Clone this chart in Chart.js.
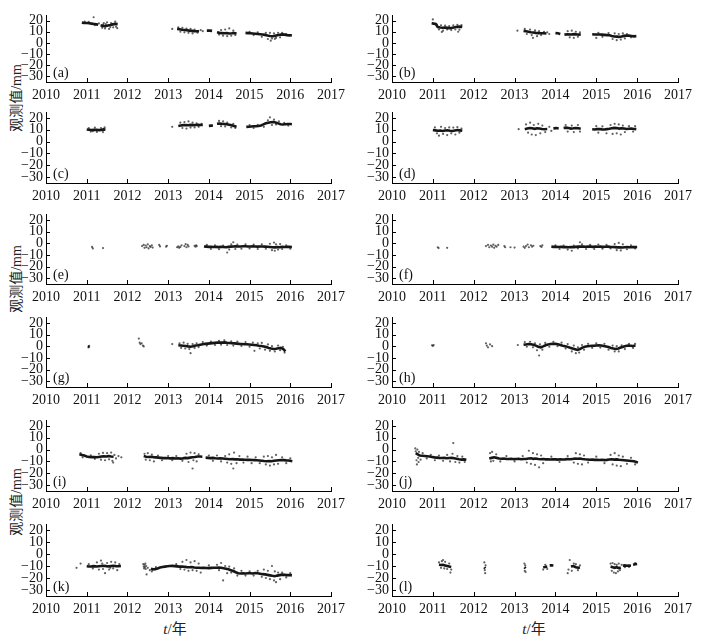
<!DOCTYPE html>
<html>
<head>
<meta charset="utf-8">
<script src="https://cdn.jsdelivr.net/npm/chart.js@4.4.1/dist/chart.umd.min.js"></script>
<style>
  body { margin: 0; background: #fff; }
  #wrap { position: relative; width: 705px; height: 642px; overflow: hidden; }
  canvas { position: absolute; }
  .ytitle { position: absolute; left: 15px; transform: translate(-50%, -50%) rotate(-90deg); white-space: nowrap;
            font: 14px "Liberation Serif", "Times New Roman", "Noto Sans CJK SC", serif; color: #222; }
  .xtitle { position: absolute; transform: translate(-50%, -50%); white-space: nowrap;
            font: 15px "Liberation Serif", "Times New Roman", "Noto Sans CJK SC", serif; color: #222; }
</style>
</head>
<body>
<div id="wrap">
  <div class="ytitle" style="top:98px">观测值/mm</div>
  <div class="ytitle" style="top:279px">观测值/mm</div>
  <div class="ytitle" style="top:502px">观测值/mm</div>
  <div class="xtitle" style="left:175px; top:627px"><i>t</i>/年</div>
  <div class="xtitle" style="left:534px; top:627px"><i>t</i>/年</div>
</div>
<script>
// axis ticks
var years = [2010, 2011, 2012, 2013, 2014, 2015, 2016, 2017];
var values = [20, 10, 0, -10, -20, -30];
var labels = ['(a)', '(b)', '(c)', '(d)', '(e)', '(f)', '(g)', '(h)', '(i)', '(j)', '(k)', '(l)'];

// core = dense part of each series [t, mm], null = gap ; dots = scattered observations
var aCore = [[2010.88,18.2],[2010.94,17.9],[2011.0,17.8],[2011.06,17.6],[2011.12,17.3],[2011.18,17.0],[2011.24,16.6],[2011.28,16.2],[2011.31,null],
  [2011.34,15.8],[2011.4,15.2],[2011.46,15.0],[2011.52,15.6],[2011.58,16.0],[2011.64,16.6],[2011.7,17.0],[2011.76,16.8],[2012.5,null],
  [2013.22,12.6],[2013.28,12.2],[2013.34,11.8],[2013.4,11.6],[2013.46,11.3],[2013.52,11.0],[2013.58,10.8],[2013.64,10.6],[2013.7,10.5],[2013.76,10.4],[2013.85,null],
  [2013.95,11.0],[2014.02,11.0],[2014.08,10.8],[2014.14,null],
  [2014.2,9.5],[2014.26,9.0],[2014.32,8.8],[2014.38,8.6],[2014.44,8.8],[2014.5,8.5],[2014.56,8.6],[2014.62,8.8],[2014.68,8.4],[2014.8,null],
  [2014.9,9.0],[2014.96,8.8],[2015.02,8.6],[2015.08,8.4],[2015.14,8.2],[2015.2,8.0],[2015.26,7.8],[2015.32,7.6],[2015.38,7.2],[2015.44,6.6],[2015.5,6.2],
  [2015.56,6.0],[2015.62,6.3],[2015.68,6.8],[2015.74,7.3],[2015.8,7.6],[2015.86,7.4],[2015.92,7.0],[2015.98,6.8],[2016.04,6.9]];
var aDots = [[2011.17,23],[2010.95,19.2],[2011.05,18.8],[2011.2,16.0],[2011.3,17.5],[2011.38,13.5],[2011.42,17.8],[2011.45,13.0],[2011.5,18.5],[2011.55,12.5],
  [2011.6,17.8],[2011.65,14.0],[2011.7,19.0],[2011.72,14.5],[2011.47,16.8],[2011.58,14.2],[2011.75,13.2],[2011.4,16.5],
  [2013.1,12.5],[2013.25,14.0],[2013.3,10.0],[2013.35,13.5],[2013.4,9.5],[2013.45,12.8],[2013.5,9.0],[2013.55,12.5],[2013.6,8.5],[2013.65,12.0],[2013.72,9.2],
  [2013.8,11.5],[2013.85,10.5],[2014.3,11.5],[2014.35,6.5],[2014.4,12.0],[2014.45,6.0],[2014.5,13.0],[2014.55,6.5],[2014.6,11.0],[2014.65,7.0],[2014.25,7.5],
  [2015.0,10.0],[2015.1,7.0],[2015.2,9.5],[2015.4,9.0],[2015.45,3.5],[2015.5,9.0],[2015.52,2.0],[2015.55,4.0],[2015.6,8.5],[2015.62,3.5],[2015.65,4.5],
  [2015.7,9.0],[2015.75,5.0],[2015.8,9.0],[2015.9,8.0],[2015.3,5.5]];

var bCore = [[2010.97,17.6],[2011.02,17.3],[2011.07,17.0],[2011.12,14.2],[2011.18,13.8],[2011.24,13.6],[2011.3,13.7],[2011.36,13.5],[2011.42,13.2],[2011.48,13.6],
  [2011.54,14.0],[2011.6,14.4],[2011.66,14.6],[2011.72,14.2],[2012.5,null],
  [2013.22,10.8],[2013.28,10.4],[2013.34,10.0],[2013.4,9.6],[2013.46,9.4],[2013.52,9.0],[2013.58,8.8],[2013.64,8.6],[2013.7,8.7],[2013.78,8.5],[2013.9,null],
  [2014.0,8.8],[2014.06,8.6],[2014.12,8.0],[2014.17,null],
  [2014.22,7.4],[2014.3,7.8],[2014.38,7.6],[2014.46,7.9],[2014.54,7.6],[2014.62,7.4],[2014.8,null],
  [2014.9,7.8],[2014.96,7.6],[2015.02,7.5],[2015.08,7.6],[2015.14,7.4],[2015.2,7.2],[2015.26,7.0],[2015.32,6.8],[2015.38,6.2],[2015.44,5.8],[2015.5,5.6],
  [2015.56,5.4],[2015.62,5.8],[2015.68,6.3],[2015.74,6.6],[2015.8,6.5],[2015.86,6.2],[2015.92,5.9],[2015.98,6.1]];
var bDots = [[2011.0,21.0],[2011.1,16.5],[2011.15,12.0],[2011.2,15.8],[2011.25,11.0],[2011.3,15.5],[2011.35,12.0],[2011.4,15.0],[2011.45,11.5],[2011.5,15.8],
  [2011.55,12.0],[2011.6,16.2],[2011.65,11.8],[2011.7,16.0],[2011.22,9.8],[2011.62,10.0],[2013.07,11],[2013.25,12.5],[2013.3,8.0],[2013.38,12.0],[2013.42,7.0],
  [2013.5,11.2],[2013.55,6.0],[2013.6,10.5],[2013.65,7.0],[2013.72,10.0],[2013.8,9.5],[2013.85,8.0],[2013.45,4.5],[2014.3,10.5],[2014.35,5.0],[2014.4,11.0],
  [2014.45,4.5],[2014.5,10.0],[2014.55,5.5],[2014.6,9.5],[2015.05,9.0],[2015.15,5.5],[2015.3,8.8],[2015.4,3.5],[2015.45,8.5],[2015.5,2.5],[2015.55,8.0],
  [2015.6,3.0],[2015.65,8.5],[2015.7,4.0],[2015.75,8.0],[2015.85,5.0],[2015.0,4.5]];

var cCore = [[2011.0,10.2],[2011.06,10.0],[2011.12,9.8],[2011.18,9.9],[2011.24,10.0],[2011.3,9.7],[2011.36,9.9],[2011.42,10.3],[2011.46,10.0],[2012.5,null],
  [2013.25,13.2],[2013.31,13.6],[2013.37,13.9],[2013.43,14.0],[2013.49,13.8],[2013.55,14.1],[2013.61,13.9],[2013.67,14.0],[2013.73,14.2],[2013.79,14.0],[2013.85,14.1],[2013.92,null],
  [2014.0,13.3],[2014.06,13.5],[2014.1,13.6],[2014.15,null],
  [2014.2,15.0],[2014.26,15.3],[2014.32,15.0],[2014.38,14.8],[2014.44,14.6],[2014.5,14.2],[2014.56,13.8],[2014.62,13.2],[2014.68,12.6],[2014.8,null],
  [2014.92,12.4],[2014.98,12.6],[2015.04,12.8],[2015.1,12.9],[2015.16,13.0],[2015.22,13.2],[2015.28,13.6],[2015.34,14.5],[2015.4,15.5],[2015.46,16.0],[2015.52,16.4],
  [2015.58,16.6],[2015.64,16.2],[2015.7,15.4],[2015.76,14.6],[2015.82,14.4],[2015.88,14.6],[2015.94,14.8],[2016.0,14.9],[2016.04,14.7]];
var cDots = [[2011.05,11.5],[2011.1,8.5],[2011.2,11.8],[2011.25,8.2],[2011.35,11.5],[2011.4,8.0],[2011.44,12.0],[2011.15,8.8],[2013.1,12.5],[2013.3,16.0],
  [2013.35,11.5],[2013.4,16.5],[2013.45,11.0],[2013.5,17.0],[2013.55,11.8],[2013.6,16.0],[2013.65,12.0],[2013.7,15.5],[2013.75,12.5],[2013.82,15.0],[2014.25,17.5],
  [2014.3,13.0],[2014.35,17.0],[2014.4,12.8],[2014.45,16.0],[2014.55,12.0],[2014.6,15.0],[2014.65,11.5],[2015.0,14.0],[2015.1,11.5],[2015.2,14.2],[2015.35,12.5],
  [2015.45,18.0],[2015.5,20.5],[2015.55,14.0],[2015.6,18.5],[2015.65,14.5],[2015.72,17.0],[2015.85,15.8],[2015.95,13.5]];

var dCore = [[2011.0,9.8],[2011.06,9.5],[2011.12,9.2],[2011.18,9.4],[2011.24,9.0],[2011.3,9.3],[2011.36,9.6],[2011.42,9.2],[2011.48,9.0],[2011.54,9.4],[2011.6,9.8],
  [2011.66,9.5],[2011.72,9.2],[2012.5,null],
  [2013.25,10.5],[2013.31,11.0],[2013.37,11.5],[2013.43,11.2],[2013.49,10.8],[2013.55,11.3],[2013.61,11.0],[2013.67,10.6],[2013.73,10.4],[2013.8,10.6],[2013.88,null],
  [2013.95,11.2],[2014.02,11.4],[2014.08,11.0],[2014.14,null],
  [2014.2,11.5],[2014.26,11.8],[2014.32,11.4],[2014.38,11.0],[2014.44,11.2],[2014.5,11.5],[2014.56,11.2],[2014.62,10.8],[2014.8,null],
  [2014.9,10.4],[2014.96,10.2],[2015.02,10.5],[2015.08,10.6],[2015.14,10.3],[2015.2,10.2],[2015.26,10.5],[2015.32,10.8],[2015.38,11.2],[2015.44,11.6],[2015.5,11.4],
  [2015.56,11.0],[2015.62,11.3],[2015.68,11.0],[2015.74,10.6],[2015.8,10.8],[2015.86,11.0],[2015.92,10.7],[2015.98,10.5]];
var dDots = [[2011.05,12.0],[2011.1,7.0],[2011.2,12.5],[2011.25,6.5],[2011.3,11.5],[2011.35,5.5],[2011.4,12.0],[2011.45,7.0],[2011.5,11.8],[2011.55,6.0],
  [2011.6,12.2],[2011.65,7.5],[2011.7,11.0],[2011.15,5.0],[2013.1,10.5],[2013.28,14.5],[2013.33,7.5],[2013.38,16.0],[2013.42,6.0],[2013.47,14.0],[2013.52,5.5],
  [2013.58,15.0],[2013.63,7.0],[2013.68,13.5],[2013.75,8.0],[2013.85,12.5],[2013.9,9.0],[2014.25,14.0],[2014.3,8.5],[2014.4,13.5],[2014.45,8.0],[2014.55,14.0],
  [2014.6,8.5],[2015.0,13.0],[2015.05,7.5],[2015.15,12.8],[2015.25,7.0],[2015.35,14.0],[2015.4,6.5],[2015.45,15.0],[2015.5,7.0],[2015.55,14.5],[2015.6,6.0],
  [2015.65,13.5],[2015.7,8.0],[2015.8,13.0],[2015.9,8.5],[2015.95,13.0]];

var eCore = [[2013.88,-2.8],[2013.94,-3.0],[2014.0,-3.2],[2014.06,-3.1],[2014.12,-3.3],[2014.18,-3.2],[2014.24,-3.4],[2014.3,-3.2],[2014.36,-3.3],[2014.42,-3.5],
  [2014.48,-3.2],[2014.54,-3.0],[2014.6,-2.8],[2014.66,-2.7],[2014.72,-2.9],[2014.78,-2.8],[2014.84,-2.6],[2014.9,-2.7],[2014.96,-2.9],[2015.02,-2.8],[2015.08,-2.7],
  [2015.14,-2.9],[2015.2,-3.0],[2015.26,-2.8],[2015.32,-2.9],[2015.38,-3.0],[2015.44,-3.1],[2015.5,-3.3],[2015.56,-3.5],[2015.62,-3.6],[2015.68,-3.4],[2015.74,-3.5],
  [2015.8,-3.2],[2015.86,-3.3],[2015.92,-3.1],[2015.98,-3.2],[2016.04,-3.3]];
var eDots = [[2011.13,-3.2],[2011.15,-4.5],[2011.4,-4.2],[2012.36,-2.5],[2012.4,-1.5],[2012.42,-4.0],[2012.45,-2.0],[2012.47,-3.5],[2012.5,-1.0],[2012.52,-4.5],
  [2012.55,-2.5],[2012.57,-3.2],[2012.6,-1.8],[2012.62,-3.8],[2012.78,-1.5],[2012.8,-2.8],[2012.95,-3.0],[2012.97,-2.2],[2013.22,-3.5],[2013.25,-2.8],[2013.27,-4.0],
  [2013.3,-3.2],[2013.33,-1.8],[2013.4,-2.5],[2013.43,-0.8],[2013.45,-3.5],[2013.48,-1.5],[2013.5,-2.8],[2013.65,-2.2],[2013.67,-3.0],[2013.69,-1.8],[2013.7,-2.6],
  [2013.95,-1.5],[2014.05,-5.0],[2014.15,-1.8],[2014.25,-5.2],[2014.35,-2.0],[2014.45,-8.0],[2014.5,-5.5],[2014.55,-1.0],[2014.6,0.8],[2014.65,-5.0],[2014.7,-1.2],
  [2014.8,-4.8],[2014.9,-1.0],[2015.0,-4.5],[2015.1,-1.2],[2015.2,-5.0],[2015.3,-1.0],[2015.4,-4.8],[2015.5,-0.5],[2015.55,-6.0],[2015.6,0.5],[2015.62,-6.5],
  [2015.65,-1.0],[2015.7,-5.5],[2015.75,-0.8],[2015.8,-5.0],[2015.9,-1.8],[2016.0,-4.8]];

var fCore = [[2013.9,-3.0],[2013.96,-3.2],[2014.02,-3.1],[2014.08,-3.3],[2014.14,-3.2],[2014.2,-3.4],[2014.26,-3.3],[2014.32,-3.5],[2014.38,-3.3],[2014.44,-3.4],
  [2014.5,-3.2],[2014.56,-3.0],[2014.62,-2.9],[2014.68,-3.0],[2014.74,-3.1],[2014.8,-2.9],[2014.86,-3.0],[2014.92,-3.2],[2014.98,-3.0],[2015.04,-3.1],[2015.1,-3.0],
  [2015.16,-3.2],[2015.22,-3.1],[2015.28,-3.0],[2015.34,-3.2],[2015.4,-3.3],[2015.46,-3.4],[2015.52,-3.6],[2015.58,-3.5],[2015.64,-3.7],[2015.7,-3.5],[2015.76,-3.4],
  [2015.82,-3.5],[2015.88,-3.3],[2015.94,-3.4],[2016.0,-3.3]];
var fDots = [[2011.12,-3.5],[2011.14,-4.2],[2011.35,-4.0],[2012.3,-2.5],[2012.35,-1.5],[2012.38,-3.5],[2012.42,-2.0],[2012.45,-3.0],[2012.48,-1.2],[2012.5,-4.0],
  [2012.53,-2.2],[2012.56,-3.0],[2012.6,-1.5],[2012.75,-2.5],[2012.77,-3.5],[2012.9,-3.5],[2013.0,-3.8],[2013.22,-3.0],[2013.25,-4.0],[2013.28,-2.5],[2013.32,-1.2],
  [2013.35,-3.5],[2013.4,-1.8],[2013.43,-3.0],[2013.46,-2.2],[2013.63,-2.5],[2013.66,-3.2],[2013.68,-1.8],[2014.0,-1.8],[2014.1,-5.0],[2014.2,-2.0],[2014.3,-5.5],
  [2014.4,-6.5],[2014.45,-2.0],[2014.55,-4.5],[2014.6,0.8],[2014.65,-1.0],[2014.75,-5.0],[2014.85,-1.5],[2014.95,-5.0],[2015.05,-1.2],[2015.15,-4.8],[2015.25,-1.5],
  [2015.35,-4.5],[2015.45,-0.8],[2015.5,-6.0],[2015.55,0.2],[2015.6,-6.2],[2015.65,-1.0],[2015.75,-5.2],[2015.85,-1.8],[2015.95,-4.5]];

var gCore = [[2011.03,-0.5],[2011.07,-0.2],[2012.5,null],
  [2013.25,0.8],[2013.31,0.6],[2013.37,0.4],[2013.43,0.2],[2013.49,-0.2],[2013.55,-0.5],[2013.61,0.0],[2013.67,0.6],[2013.73,0.8],[2013.79,1.2],[2013.85,1.6],
  [2013.91,2.0],[2013.97,2.2],[2014.03,2.4],[2014.09,2.6],[2014.15,2.8],[2014.21,3.0],[2014.27,3.2],[2014.33,3.0],[2014.39,3.2],[2014.45,2.9],[2014.51,2.7],
  [2014.57,2.5],[2014.63,2.4],[2014.69,2.2],[2014.75,2.0],[2014.81,1.9],[2014.87,1.7],[2014.93,1.6],[2014.99,1.4],[2015.05,1.2],[2015.11,1.0],[2015.17,0.8],
  [2015.23,0.4],[2015.29,0.2],[2015.35,-0.2],[2015.41,-0.8],[2015.47,-1.5],[2015.53,-2.0],[2015.59,-2.4],[2015.65,-2.2],[2015.71,-1.8],[2015.77,-1.5],[2015.83,-2.5],[2015.88,-4.5]];
var gDots = [[2011.04,-1.0],[2011.06,0.3],[2012.28,6.5],[2012.3,3.0],[2012.32,1.8],[2012.35,2.5],[2012.38,0.5],[2012.4,-0.2],[2013.1,1.8],[2013.28,2.5],[2013.32,-1.5],
  [2013.38,3.0],[2013.42,-2.0],[2013.48,2.0],[2013.52,-2.5],[2013.55,-6.0],[2013.6,1.8],[2013.65,-1.5],[2013.7,2.5],[2013.75,-0.8],[2013.85,3.5],[2013.95,0.5],
  [2014.05,4.0],[2014.15,1.0],[2014.25,4.5],[2014.3,1.2],[2014.38,5.0],[2014.45,1.0],[2014.55,4.2],[2014.6,0.5],[2014.7,4.0],[2014.8,0.2],[2014.9,3.5],[2015.0,-0.5],
  [2015.08,3.0],[2015.12,-4.0],[2015.2,2.5],[2015.25,-2.0],[2015.3,2.8],[2015.38,-3.0],[2015.45,1.5],[2015.5,-4.0],[2015.55,0.0],[2015.62,-4.5],[2015.7,0.5],
  [2015.75,-3.5],[2015.82,-0.5],[2015.86,-5.5]];

var hCore = [[2013.22,1.2],[2013.28,1.5],[2013.34,1.8],[2013.4,1.6],[2013.46,1.2],[2013.52,0.5],[2013.58,-0.5],[2013.64,-1.0],[2013.7,-0.2],[2013.76,0.8],[2013.82,1.4],
  [2013.88,1.8],[2013.94,2.0],[2014.0,2.0],[2014.06,1.6],[2014.12,1.0],[2014.18,0.4],[2014.24,0.0],[2014.3,-0.6],[2014.36,-1.4],[2014.42,-2.0],[2014.48,-2.6],
  [2014.54,-3.2],[2014.6,-2.5],[2014.66,-1.2],[2014.72,-0.4],[2014.78,0.0],[2014.84,0.2],[2014.9,0.4],[2014.96,0.5],[2015.0,0.6],[2015.06,0.8],[2015.12,0.6],
  [2015.18,0.2],[2015.24,-0.2],[2015.3,-0.8],[2015.36,-1.5],[2015.42,-2.0],[2015.48,-2.4],[2015.54,-2.0],[2015.6,-1.2],[2015.66,-0.5],[2015.72,0.2],[2015.78,0.5],
  [2015.84,0.4],[2015.9,0.2],[2015.96,0.5]];
var hDots = [[2010.98,0.8],[2011.0,0.2],[2011.02,1.0],[2012.3,2.5],[2012.32,0.5],[2012.35,-1.0],[2012.4,1.5],[2012.45,0.0],[2013.08,1.0],[2013.25,3.5],[2013.3,-0.5],
  [2013.38,3.8],[2013.45,-1.0],[2013.5,2.5],[2013.55,-3.5],[2013.6,-8.0],[2013.62,1.5],[2013.68,-3.0],[2013.75,2.8],[2013.85,-0.5],[2013.95,3.8],[2014.05,0.0],
  [2014.15,3.0],[2014.25,-2.0],[2014.3,1.8],[2014.4,-4.5],[2014.45,0.5],[2014.5,-6.0],[2014.55,-1.0],[2014.58,-5.5],[2014.65,1.0],[2014.7,-3.0],[2014.8,2.0],
  [2014.9,-1.5],[2015.0,2.5],[2015.1,-1.2],[2015.2,2.0],[2015.3,-3.0],[2015.4,0.5],[2015.45,-4.5],[2015.5,0.0],[2015.55,-4.5],[2015.62,0.8],[2015.7,-2.5],
  [2015.8,2.0],[2015.9,-1.5],[2015.95,2.0]];

var iCore = [[2010.82,-4.0],[2010.88,-4.5],[2010.94,-5.0],[2011.0,-5.8],[2011.06,-6.2],[2011.12,-6.4],[2011.18,-6.3],[2011.24,-6.5],[2011.3,-6.2],[2011.36,-5.9],
  [2011.42,-5.6],[2011.48,-5.8],[2011.54,-5.5],[2011.6,-5.9],[2011.66,-6.1],[2012.0,null],
  [2012.4,-5.5],[2012.46,-6.0],[2012.52,-6.3],[2012.58,-6.1],[2012.64,-6.4],[2012.7,-6.6],[2012.76,-6.8],[2012.82,-7.0],[2012.88,-7.2],[2012.94,-7.1],[2013.0,-7.3],
  [2013.06,-7.4],[2013.12,-7.2],[2013.18,-7.5],[2013.24,-7.3],[2013.3,-7.6],[2013.36,-7.4],[2013.42,-7.0],[2013.48,-7.2],[2013.54,-6.8],[2013.6,-6.5],[2013.66,-6.2],
  [2013.72,-5.8],[2013.78,-5.9],[2013.84,-6.0],[2013.88,null],
  [2013.92,-6.8],[2013.98,-7.0],[2014.04,-7.2],[2014.1,-7.0],[2014.16,-7.3],[2014.22,-7.5],[2014.28,-7.4],[2014.34,-7.6],[2014.4,-7.8],[2014.46,-8.0],[2014.52,-8.2],
  [2014.58,-8.1],[2014.64,-8.3],[2014.7,-8.2],[2014.76,-8.5],[2014.82,-8.4],[2014.88,-8.6],[2014.94,-8.7],[2015.0,-8.6],[2015.06,-8.8],[2015.12,-8.9],[2015.18,-9.0],
  [2015.24,-9.2],[2015.3,-9.4],[2015.36,-9.7],[2015.42,-9.9],[2015.48,-9.6],[2015.54,-9.8],[2015.6,-9.5],[2015.66,-9.2],[2015.72,-9.0],[2015.78,-8.8],[2015.84,-8.9],
  [2015.9,-9.1],[2015.96,-9.2],[2016.02,-9.6],[2016.05,-9.8]];
var iDots = [[2010.85,-3.0],[2010.9,-6.5],[2011.1,-4.8],[2011.2,-7.8],[2011.3,-3.5],[2011.35,-8.5],[2011.4,-2.8],[2011.45,-9.0],[2011.5,-3.0],[2011.55,-8.2],
  [2011.6,-2.5],[2011.63,-9.5],[2011.68,-4.5],[2011.72,-7.5],[2011.78,-5.5],[2011.85,-6.5],[2011.65,-11.0],[2012.42,-3.5],[2012.45,-8.5],[2012.5,-3.0],[2012.55,-9.0],
  [2012.6,-4.2],[2012.65,-10.0],[2012.75,-5.0],[2012.85,-9.0],[2013.0,-5.5],[2013.1,-9.0],[2013.2,-5.5],[2013.35,-9.5],[2013.45,-3.5],[2013.5,-10.5],[2013.55,-2.5],
  [2013.6,-16.0],[2013.62,-9.0],[2013.65,-3.0],[2013.7,-10.0],[2013.75,-4.0],[2014.0,-5.0],[2014.1,-9.5],[2014.2,-5.0],[2014.3,-10.0],[2014.4,-5.5],[2014.45,-11.0],
  [2014.5,-4.0],[2014.55,-12.0],[2014.6,-16.0],[2014.62,-2.5],[2014.68,-11.5],[2014.75,-5.5],[2014.85,-11.0],[2014.95,-6.0],[2015.05,-11.5],[2015.15,-6.5],
  [2015.25,-11.5],[2015.35,-6.0],[2015.4,-12.5],[2015.45,-5.5],[2015.5,-13.5],[2015.55,-6.5],[2015.6,-12.5],[2015.65,-4.5],[2015.7,-12.0],[2015.8,-6.5],
  [2015.9,-11.5],[2016.0,-7.5]];

var jCore = [[2010.58,-3.0],[2010.63,-4.0],[2010.68,-5.0],[2010.74,-5.2],[2010.8,-5.4],[2010.86,-5.6],[2010.92,-5.8],[2010.98,-6.2],[2011.04,-6.6],[2011.1,-6.8],
  [2011.16,-7.0],[2011.22,-7.1],[2011.28,-7.0],[2011.34,-7.3],[2011.4,-7.1],[2011.46,-7.0],[2011.52,-7.4],[2011.58,-7.8],[2011.64,-8.2],[2011.7,-8.5],[2011.76,-8.3],
  [2011.82,-8.6],[2012.1,null],
  [2012.38,-7.5],[2012.44,-7.0],[2012.5,-6.5],[2012.56,-7.0],[2012.62,-7.5],[2012.68,-7.8],[2012.74,-7.6],[2012.8,-7.9],[2012.86,-8.0],[2012.92,-7.8],[2012.98,-8.1],
  [2013.04,-8.0],[2013.1,-7.8],[2013.16,-8.2],[2013.22,-8.0],[2013.28,-7.9],[2013.34,-7.6],[2013.4,-7.4],[2013.46,-7.8],[2013.52,-7.5],[2013.58,-7.9],[2013.64,-8.2],
  [2013.7,-8.0],[2013.76,-8.3],[2013.82,-8.2],[2013.88,-8.4],[2013.94,-8.2],[2014.0,-8.3],[2014.06,-8.5],[2014.12,-8.2],[2014.18,-8.4],[2014.24,-8.3],[2014.3,-8.0],
  [2014.36,-8.2],[2014.42,-7.9],[2014.48,-7.6],[2014.54,-7.8],[2014.6,-7.5],[2014.66,-7.9],[2014.72,-8.2],[2014.78,-8.4],[2014.84,-8.6],[2014.9,-8.5],[2014.96,-8.7],
  [2015.02,-8.6],[2015.08,-8.8],[2015.14,-8.6],[2015.2,-8.9],[2015.26,-8.7],[2015.32,-8.4],[2015.38,-8.2],[2015.44,-8.5],[2015.5,-8.3],[2015.56,-8.6],[2015.62,-8.8],
  [2015.68,-9.0],[2015.74,-9.2],[2015.8,-9.4],[2015.86,-9.6],[2015.92,-9.9],[2015.98,-10.5],[2016.02,-11.0]];
var jDots = [[2010.57,1.0],[2010.58,-1.5],[2010.6,-9.0],[2010.61,-12.5],[2010.62,0.0],[2010.64,-7.0],[2010.65,-10.5],[2010.66,-2.0],[2010.7,-8.5],[2010.75,-3.0],
  [2010.85,-7.5],[2010.95,-4.5],[2011.05,-9.0],[2011.15,-5.0],[2011.25,-9.5],[2011.35,-4.5],[2011.42,-10.0],[2011.48,-3.5],[2011.5,5.5],[2011.55,-10.5],[2011.6,-5.5],
  [2011.65,-11.0],[2011.72,-6.0],[2011.78,-10.5],[2012.4,-3.0],[2012.42,-10.0],[2012.45,-2.0],[2012.48,-9.5],[2012.55,-4.0],[2012.65,-10.0],[2012.8,-5.5],
  [2013.0,-10.0],[2013.2,-5.5],[2013.3,-11.0],[2013.35,-1.0],[2013.4,-12.0],[2013.45,-3.0],[2013.5,-13.0],[2013.55,-4.0],[2013.6,-15.0],[2013.65,-5.0],[2013.7,-11.5],
  [2013.9,-6.0],[2014.1,-10.5],[2014.3,-5.5],[2014.45,-11.0],[2014.5,-3.0],[2014.55,-12.0],[2014.6,-4.0],[2014.65,-12.5],[2014.7,-5.0],[2014.8,-11.0],[2015.0,-6.0],
  [2015.2,-11.5],[2015.35,-4.5],[2015.4,-12.5],[2015.45,-3.0],[2015.5,-13.5],[2015.55,-5.0],[2015.6,-14.0],[2015.65,-6.0],[2015.75,-12.0],[2015.85,-7.0],[2015.95,-12.5]];

var kCore = [[2011.0,-10.2],[2011.06,-10.4],[2011.12,-10.3],[2011.18,-10.1],[2011.24,-10.4],[2011.3,-10.2],[2011.36,-10.0],[2011.42,-9.8],[2011.48,-10.1],[2011.54,-10.3],
  [2011.6,-10.0],[2011.66,-9.8],[2011.72,-10.1],[2011.78,-10.2],[2011.84,-10.0],[2012.2,null],
  [2012.58,-12.0],[2012.62,-12.8],[2012.68,-12.6],[2012.74,-12.0],[2012.8,-11.2],[2012.86,-10.8],[2012.92,-10.5],[2012.98,-10.2],[2013.04,-10.0],[2013.1,-9.9],
  [2013.16,-10.1],[2013.22,-10.3],[2013.28,-10.5],[2013.34,-10.4],[2013.4,-10.6],[2013.46,-10.9],[2013.52,-11.0],[2013.58,-10.8],[2013.64,-11.2],[2013.7,-11.5],
  [2013.76,-11.4],[2013.82,-11.6],[2013.88,-11.5],[2013.94,-11.7],[2014.0,-11.8],[2014.06,-11.6],[2014.12,-11.5],[2014.18,-11.4],[2014.24,-11.2],[2014.3,-11.5],
  [2014.36,-11.8],[2014.42,-12.2],[2014.48,-12.8],[2014.54,-13.5],[2014.6,-14.2],[2014.66,-15.2],[2014.72,-16.0],[2014.78,-16.2],[2014.84,-16.0],[2014.9,-16.3],
  [2014.96,-16.1],[2015.02,-16.0],[2015.08,-16.2],[2015.14,-15.9],[2015.2,-16.1],[2015.26,-16.4],[2015.32,-16.8],[2015.38,-17.0],[2015.44,-17.4],[2015.5,-17.8],
  [2015.56,-18.2],[2015.62,-18.5],[2015.68,-18.0],[2015.74,-17.6],[2015.8,-17.2],[2015.86,-17.4],[2015.92,-17.6],[2015.98,-17.5],[2016.04,-17.8]];
var kDots = [[2010.75,-11.5],[2010.85,-8.0],[2011.05,-8.5],[2011.15,-12.0],[2011.25,-7.0],[2011.3,-13.0],[2011.35,-5.5],[2011.4,-12.5],[2011.45,-16.0],[2011.5,-7.5],
  [2011.55,-13.0],[2011.6,-6.5],[2011.65,-12.0],[2011.7,-7.0],[2011.75,-13.5],[2011.8,-8.5],[2011.38,-8.0],[2011.58,-11.5],[2012.39,-8.5],[2012.4,-10.5],[2012.41,-12.0],
  [2012.42,-9.0],[2012.43,-11.0],[2012.44,-8.0],[2012.45,-12.5],[2012.46,-10.0],[2012.47,-17.0],[2012.5,-11.5],[2012.55,-13.5],[2012.6,-14.5],[2012.7,-11.0],
  [2013.2,-8.5],[2013.3,-12.5],[2013.35,-6.5],[2013.4,-13.0],[2013.45,-5.0],[2013.5,-14.0],[2013.55,-7.0],[2013.6,-13.5],[2013.65,-6.0],[2013.7,-14.0],[2013.75,-8.0],
  [2013.8,-15.5],[2014.0,-9.5],[2014.2,-9.0],[2014.25,-13.5],[2014.3,-7.5],[2014.35,-22.0],[2014.4,-10.0],[2014.45,-16.0],[2014.5,-10.5],[2014.55,-15.5],[2014.62,-12.0],
  [2014.7,-18.0],[2014.8,-14.0],[2014.9,-18.0],[2015.0,-14.5],[2015.1,-18.0],[2015.2,-14.0],[2015.3,-19.0],[2015.35,-13.0],[2015.4,-20.0],[2015.45,-14.0],
  [2015.5,-21.0],[2015.55,-10.0],[2015.6,-22.0],[2015.62,-14.5],[2015.65,-23.5],[2015.7,-15.5],[2015.75,-21.0],[2015.8,-15.5],[2015.9,-19.5],[2016.0,-16.0]];

var lCore = [[2011.15,-9.0],[2011.2,-9.2],[2011.25,-9.0],[2011.3,-9.5],[2011.35,-10.0],[2011.4,-10.5],[2011.45,-10.8],[2011.8,null],
  [2012.26,-11.0],[2012.28,-12.0],[2012.8,null],[2013.24,-11.0],[2013.27,-12.0],[2013.5,null],
  [2013.7,-11.0],[2013.75,-10.8],[2013.8,-10.5],[2013.83,null],[2013.86,-9.5],[2013.9,-9.4],[2013.95,-9.6],[2014.2,null],
  [2014.38,-10.5],[2014.44,-10.0],[2014.5,-11.0],[2014.56,-11.5],[2014.6,-11.3],[2015.0,null],
  [2015.35,-10.5],[2015.4,-11.0],[2015.45,-11.5],[2015.5,-11.0],[2015.55,-11.8],[2015.6,-11.2],[2015.62,null],
  [2015.65,-9.8],[2015.7,-9.5],[2015.75,-9.8],[2015.8,-9.6],[2015.85,-9.8],[2015.87,null],[2015.9,-9.0],[2015.95,-8.6],[2016.0,-8.4]];
var lDots = [[2011.15,-7.0],[2011.2,-11.5],[2011.22,-6.0],[2011.28,-12.0],[2011.3,-6.5],[2011.35,-12.5],[2011.4,-8.0],[2011.43,-15.5],[2011.45,-13.0],[2011.25,-5.0],
  [2012.26,-7.0],[2012.27,-13.5],[2012.28,-16.0],[2012.29,-9.5],[2013.24,-8.0],[2013.25,-14.0],[2013.27,-15.0],[2013.26,-9.5],[2013.7,-13.0],[2013.75,-9.0],
  [2013.8,-12.5],[2014.3,-16.0],[2014.32,-13.0],[2014.35,-5.0],[2014.4,-14.0],[2014.45,-8.0],[2014.5,-8.5],[2014.55,-13.5],[2014.6,-9.5],[2015.35,-8.0],
  [2015.38,-14.0],[2015.4,-7.5],[2015.43,-15.5],[2015.45,-8.5],[2015.48,-16.0],[2015.5,-9.0],[2015.53,-14.5],[2015.55,-8.0],[2015.58,-13.5],[2015.62,-9.0],
  [2015.7,-11.0],[2015.8,-10.8],[2015.95,-7.5]];

var cores = [aCore, bCore, cCore, dCore, eCore, fCore, gCore, hCore, iCore, jCore, kCore, lCore];
var dots = [aDots, bDots, cDots, dDots, eDots, fDots, gDots, hDots, iDots, jDots, kDots, lDots];

// layout of the 6 x 2 grid
var rowAxisY = [82, 183, 284, 387, 491, 596];
var rowPlotH = [69, 73, 72, 72, 73, 74];
var serif = '"Liberation Serif", "Times New Roman", serif';

var inwardTicks = {
  id: 'inwardTicks',
  afterDraw: function (chart, args, opts) {
    var ctx = chart.ctx;
    var area = chart.chartArea;
    var x = chart.scales.x;
    var y = chart.scales.y;
    ctx.save();
    ctx.strokeStyle = '#000';
    ctx.lineWidth = 1;
    ctx.beginPath();
    years.forEach(function (v) {
      var px = Math.round(x.getPixelForValue(v)) + 0.5;
      ctx.moveTo(px, area.bottom);
      ctx.lineTo(px, area.bottom - 4);
    });
    values.forEach(function (v) {
      var py = Math.round(y.getPixelForValue(v)) + 0.5;
      ctx.moveTo(area.left, py);
      ctx.lineTo(area.left + 4, py);
    });
    ctx.stroke();
    ctx.font = '14px ' + serif;
    ctx.fillStyle = '#111';
    ctx.textBaseline = 'bottom';
    ctx.fillText(opts.label, area.left + 7, area.bottom - 2);
    ctx.restore();
  }
};

function toXY(list) {
  return list.map(function (p) { return { x: p[0], y: p[1] }; });
}

function drawAll() {
  var wrap = document.getElementById('wrap');

  for (var i = 0; i < 12; i++) {
    var row = Math.floor(i / 2);
    var col = i % 2;
    var plotH = rowPlotH[row];
    var canvasW = col === 0 ? 350 : 355;
    var canvasH = 8 + plotH + 24;
    var yWidth = col === 0 ? 46 : 42;
    var padRight = col === 0 ? 19 : 27;

    var cv = document.createElement('canvas');
    cv.width = canvasW;
    cv.height = canvasH;
    cv.style.width = canvasW + 'px';
    cv.style.height = canvasH + 'px';
    cv.style.left = (col === 0 ? 0 : 350) + 'px';
    cv.style.top = (rowAxisY[row] - plotH - 8) + 'px';
    wrap.appendChild(cv);

    (function (yWidth) {
      new Chart(cv, {
        type: 'scatter',
        data: {
          datasets: [{
            data: toXY(cores[i]),
            showLine: true,
            spanGaps: false,
            borderColor: '#161616',
            borderWidth: 2.6,
            pointRadius: 0
          }, {
            data: toXY(dots[i]),
            pointRadius: 1.1,
            pointBorderWidth: 0,
            backgroundColor: 'rgba(45,45,45,0.75)'
          }]
        },
        options: {
          responsive: false,
          animation: false,
          layout: { padding: { left: 0, right: padRight, top: 8, bottom: 0 } },
          plugins: {
            legend: { display: false },
            tooltip: { enabled: false },
            inwardTicks: { label: labels[i] }
          },
          scales: {
            x: {
              type: 'linear',
              min: 2010,
              max: 2017,
              grid: { display: false, drawTicks: false },
              border: { display: true, color: '#000', width: 1 },
              afterBuildTicks: function (s) { s.ticks = years.map(function (v) { return { value: v }; }); },
              afterFit: function (s) { s.height = 24; },
              ticks: {
                padding: 5,
                color: '#111',
                maxRotation: 0,
                autoSkip: false,
                font: { family: serif, size: 14 },
                callback: function (v) { return String(v); }
              }
            },
            y: {
              type: 'linear',
              min: -35,
              max: 25,
              grid: { display: false, drawTicks: false },
              border: { display: true, color: '#000', width: 1 },
              afterBuildTicks: function (s) { s.ticks = values.map(function (v) { return { value: v }; }); },
              afterFit: function (s) { s.width = yWidth; },
              ticks: {
                padding: 3,
                color: '#111',
                autoSkip: false,
                font: { family: serif, size: 14, lineHeight: 1 },
                callback: function (v) { return String(v).replace('-', '\u2212'); }
              }
            }
          }
        },
        plugins: [inwardTicks]
      });
    })(yWidth);
  }
}

document.fonts.load('14px "Liberation Serif"').then(drawAll, drawAll);
</script>
</body>
</html>
